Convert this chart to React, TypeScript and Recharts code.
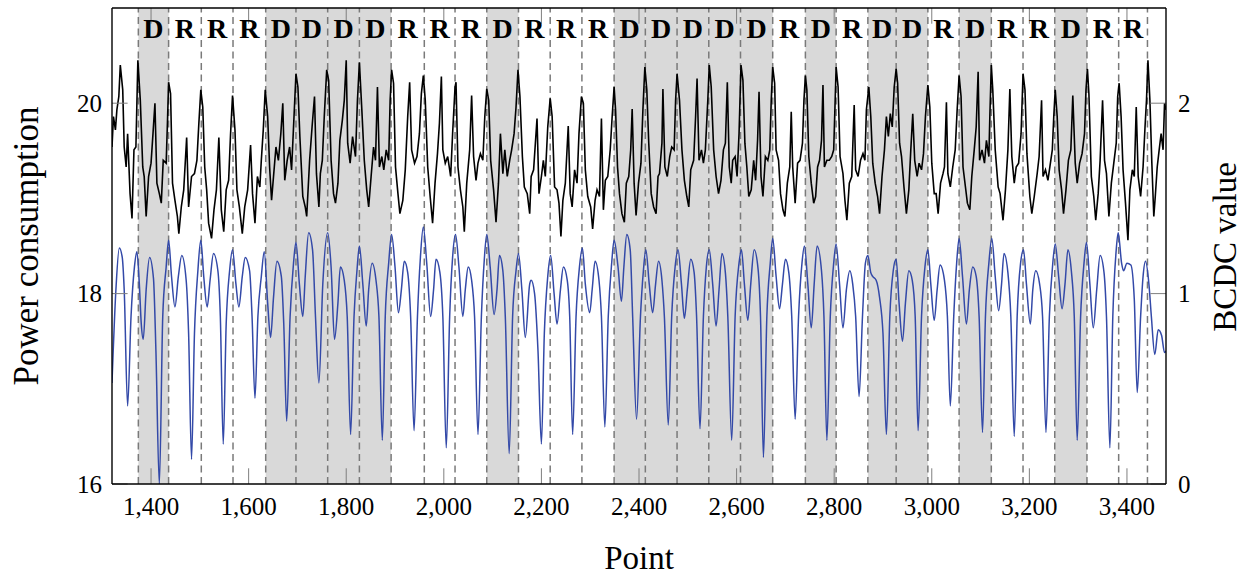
import React from 'react';
import { ComposedChart, Line, XAxis, YAxis, ReferenceArea, ReferenceLine } from 'recharts';

// segment borders (Point) and the D/R class of each segment
const segmentBounds = [1374, 1436, 1503, 1568, 1635, 1697, 1762, 1827, 1892, 1960, 2023, 2088, 2153, 2218, 2283, 2349, 2413, 2478, 2543, 2608, 2674, 2741, 2804, 2869, 2927, 2992, 3056, 3122, 3187, 3252, 3318, 3383, 3442];
const segmentLabels = ['D', 'R', 'R', 'R', 'D', 'D', 'D', 'D', 'R', 'R', 'R', 'D', 'R', 'R', 'R', 'D', 'D', 'D', 'D', 'D', 'R', 'D', 'R', 'D', 'D', 'R', 'D', 'R', 'R', 'D', 'R', 'R'];

const xTicks = [1400, 1600, 1800, 2000, 2200, 2400, 2600, 2800, 3000, 3200, 3400];
const powerTicks = [16, 18, 20];
const bcdcTicks = [0, 1, 2];

// [point, power consumption]
const powerPoints: [number, number][] = [
    [1320, 19.54], [1323, 19.86], [1327, 19.72], [1330, 19.93], [1334, 20.07], [1337, 20.40], [1342, 20.14], [1345, 19.54], [1349, 19.33], [1352, 19.68], [1357, 19.05], [1361, 18.79], [1365, 19.51], [1369, 19.54], [1373, 20.45], [1378, 20.03], [1383, 19.33], [1386, 19.23], [1390, 18.81], [1395, 19.23], [1400, 19.37], [1404, 19.68], [1408, 20.0], [1412, 19.16], [1417, 19.05], [1421, 18.95], [1425, 19.40], [1431, 19.37], [1434, 19.86], [1436, 20.22], [1440, 20.10], [1444, 19.16], [1449, 18.98], [1454, 18.81], [1457, 18.63], [1462, 18.91], [1467, 19.09], [1473, 19.64], [1477, 18.91], [1483, 19.23], [1489, 19.26], [1494, 19.40], [1498, 19.79], [1502, 20.14], [1506, 19.96], [1510, 19.33], [1514, 19.09], [1518, 18.74], [1524, 18.58], [1529, 18.88], [1534, 19.09], [1539, 19.64], [1544, 18.88], [1549, 18.65], [1554, 19.09], [1559, 19.19], [1563, 19.68], [1567, 20.08], [1572, 19.72], [1576, 19.09], [1581, 18.91], [1587, 18.63], [1592, 18.91], [1598, 19.09], [1604, 19.56], [1608, 19.05], [1613, 18.74], [1618, 19.23], [1623, 19.12], [1626, 19.40], [1630, 19.72], [1634, 20.14], [1639, 19.86], [1643, 19.33], [1647, 18.98], [1651, 19.23], [1656, 19.54], [1661, 19.40], [1666, 19.68], [1670, 20.0], [1674, 19.19], [1679, 19.40], [1684, 19.54], [1688, 19.30], [1693, 19.86], [1697, 20.31], [1701, 20.17], [1705, 19.65], [1711, 19.02], [1716, 18.91], [1719, 18.81], [1725, 19.40], [1730, 19.75], [1735, 20.07], [1739, 19.26], [1744, 18.91],
    [1747, 19.26], [1751, 19.40], [1755, 19.86], [1760, 20.35], [1764, 20.24], [1769, 19.40], [1774, 19.05], [1778, 18.95], [1783, 19.16], [1787, 19.61], [1792, 19.82], [1796, 20.03], [1800, 20.45], [1803, 19.58], [1808, 19.37], [1813, 19.65], [1819, 19.44], [1823, 20.03], [1827, 20.43], [1832, 19.93], [1837, 19.40], [1842, 19.09], [1846, 18.91], [1851, 19.23], [1856, 19.54], [1860, 19.40], [1864, 20.17], [1868, 19.33], [1873, 19.44], [1877, 19.30], [1882, 19.51], [1887, 19.40], [1890, 20.03], [1893, 20.35], [1897, 20.21], [1901, 19.33], [1906, 19.05], [1910, 18.84], [1916, 18.98], [1921, 19.30], [1926, 19.86], [1930, 20.22], [1934, 19.51], [1940, 19.37], [1945, 19.44], [1950, 19.68], [1954, 20.10], [1958, 20.29], [1962, 20.03], [1967, 19.33], [1972, 19.02], [1977, 18.74], [1982, 19.16], [1987, 19.47], [1991, 19.79], [1995, 20.28], [1998, 19.51], [2003, 19.37], [2008, 19.44], [2014, 19.23], [2018, 19.68], [2023, 20.17], [2025, 20.22], [2029, 19.33], [2034, 19.09], [2039, 18.91], [2042, 18.65], [2047, 19.16], [2053, 19.51], [2057, 20.08], [2061, 19.44], [2066, 19.19], [2070, 19.37], [2075, 19.47], [2080, 19.40], [2084, 19.86], [2088, 20.15], [2092, 20.03], [2096, 19.40], [2102, 19.09], [2107, 18.75], [2112, 19.16], [2116, 19.68], [2121, 19.26], [2125, 19.51], [2130, 19.23], [2135, 19.40], [2139, 19.51], [2144, 19.68], [2148, 19.96], [2152, 20.35], [2156, 20.07], [2161, 19.44], [2165, 19.12], [2171, 19.05], [2176, 18.84],
    [2179, 19.23], [2184, 19.30], [2191, 19.84], [2195, 19.05], [2200, 19.23], [2204, 19.40], [2208, 19.23], [2213, 19.75], [2218, 20.05], [2222, 19.86], [2227, 19.12], [2232, 19.09], [2236, 18.95], [2240, 18.60], [2244, 18.98], [2249, 19.16], [2255, 19.76], [2259, 19.05], [2263, 18.91], [2268, 19.30], [2273, 19.16], [2277, 19.68], [2282, 20.07], [2286, 20.0], [2290, 19.30], [2295, 19.02], [2301, 18.91], [2305, 18.68], [2310, 18.98], [2314, 19.09], [2319, 19.02], [2323, 19.84], [2327, 18.88], [2331, 19.19], [2336, 19.23], [2341, 19.51], [2345, 19.86], [2349, 20.17], [2352, 19.93], [2356, 19.33], [2360, 19.05], [2365, 18.84], [2370, 18.75], [2374, 19.16], [2379, 19.23], [2383, 19.51], [2386, 19.94], [2390, 19.16], [2394, 18.82], [2399, 19.16], [2404, 19.37], [2408, 19.93], [2412, 20.38], [2416, 20.14], [2420, 19.58], [2425, 19.05], [2430, 18.91], [2435, 18.84], [2439, 19.23], [2442, 19.26], [2447, 19.58], [2449, 20.15], [2453, 19.33], [2458, 19.23], [2463, 19.44], [2467, 19.54], [2472, 19.51], [2475, 20.03], [2478, 20.31], [2483, 20.03], [2488, 19.51], [2493, 19.19], [2498, 19.02], [2502, 18.91], [2506, 19.30], [2512, 19.40], [2516, 19.86], [2519, 20.26], [2523, 19.40], [2528, 19.51], [2532, 19.37], [2536, 19.51], [2541, 20.03], [2544, 20.40], [2548, 20.17], [2553, 19.51], [2558, 19.23], [2563, 19.05], [2568, 19.19], [2573, 19.51], [2577, 19.58], [2581, 20.22], [2585, 19.33], [2589, 19.16], [2592, 19.40], [2597, 19.44], [2601, 19.23], [2605, 19.68], [2609, 20.40],
    [2613, 20.24], [2617, 19.58], [2621, 19.33], [2625, 19.02], [2630, 19.09], [2635, 19.40], [2639, 19.19], [2643, 19.61], [2646, 20.12], [2650, 19.23], [2654, 19.02], [2659, 19.44], [2664, 19.40], [2668, 19.51], [2671, 20.03], [2674, 20.38], [2678, 20.21], [2681, 19.51], [2686, 19.40], [2690, 19.05], [2695, 18.88], [2699, 18.81], [2704, 19.16], [2709, 19.33], [2712, 19.91], [2715, 19.33], [2720, 18.95], [2725, 19.37], [2730, 19.40], [2735, 19.58], [2738, 20.03], [2741, 20.29], [2744, 20.14], [2748, 19.44], [2753, 19.16], [2758, 18.95], [2762, 19.02], [2766, 19.33], [2770, 19.40], [2774, 19.61], [2777, 20.19], [2780, 19.33], [2785, 19.40], [2790, 19.40], [2795, 19.44], [2799, 19.51], [2802, 20.03], [2804, 20.38], [2808, 20.17], [2812, 19.44], [2818, 19.26], [2822, 18.98], [2826, 18.77], [2831, 19.16], [2836, 19.23], [2841, 19.98], [2844, 19.30], [2849, 19.23], [2854, 19.40], [2859, 19.47], [2863, 19.40], [2866, 19.93], [2871, 20.17], [2875, 19.86], [2879, 19.37], [2884, 19.16], [2889, 19.02], [2893, 18.84], [2898, 19.23], [2903, 19.51], [2907, 19.86], [2911, 19.65], [2915, 19.89], [2919, 19.75], [2923, 20.17], [2927, 20.36], [2930, 20.21], [2934, 19.58], [2938, 19.44], [2943, 19.12], [2948, 18.84], [2953, 19.09], [2957, 19.51], [2961, 19.89], [2965, 19.40], [2970, 19.23], [2974, 19.37], [2979, 19.30], [2983, 19.47], [2987, 19.86], [2992, 20.19], [2996, 19.96], [3000, 19.37], [3005, 19.05], [3009, 19.05], [3013, 18.84], [3018, 19.16], [3023, 19.26], [3026, 19.33], [3030, 20.01], [3033, 19.26], [3038, 19.12],
    [3043, 19.33], [3048, 19.51], [3052, 19.93], [3056, 20.29], [3060, 20.07], [3064, 19.33], [3069, 19.12], [3073, 18.95], [3078, 18.88], [3082, 19.23], [3087, 19.51], [3091, 19.75], [3095, 20.33], [3098, 19.40], [3103, 19.51], [3108, 19.37], [3112, 19.61], [3117, 19.44], [3119, 19.86], [3122, 20.40], [3125, 20.14], [3130, 19.51], [3136, 19.12], [3140, 19.05], [3146, 18.77], [3151, 19.09], [3156, 19.51], [3160, 20.15], [3164, 19.44], [3169, 19.16], [3173, 19.33], [3178, 19.37], [3183, 19.68], [3187, 20.31], [3191, 20.14], [3195, 19.47], [3201, 19.02], [3205, 18.84], [3210, 19.02], [3216, 19.26], [3220, 19.44], [3225, 20.03], [3228, 19.23], [3233, 19.30], [3238, 19.19], [3242, 19.33], [3247, 19.51], [3250, 19.86], [3253, 20.14], [3257, 19.86], [3261, 19.30], [3266, 19.09], [3270, 18.84], [3275, 19.09], [3280, 19.40], [3285, 19.51], [3289, 20.08], [3294, 19.37], [3298, 19.16], [3303, 19.37], [3308, 19.47], [3313, 19.68], [3316, 20.14], [3319, 20.36], [3322, 20.10], [3327, 19.23], [3332, 19.02], [3336, 18.77], [3341, 19.05], [3345, 19.40], [3350, 20.03], [3354, 19.40], [3358, 19.26], [3363, 18.81], [3368, 19.16], [3373, 19.37], [3378, 19.58], [3381, 20.07], [3384, 20.21], [3388, 19.86], [3392, 19.30], [3397, 18.95], [3402, 18.56], [3406, 19.09], [3411, 19.30], [3415, 19.23], [3419, 19.96], [3423, 19.23], [3428, 19.02], [3433, 19.33], [3437, 19.75], [3440, 20.03], [3443, 20.45], [3447, 20.03], [3451, 19.37], [3455, 18.81], [3458, 19.02], [3462, 19.33], [3466, 19.51], [3470, 19.68], [3474, 19.51], [3477, 20.0], [3480, 19.93],
];

// [point, BCDC value]
const bcdcPoints: [number, number][] = [
    [1320, 0.53], [1328, 1.02], [1335, 1.24], [1341, 1.19], [1345, 1.02], [1352, 0.41], [1359, 0.88], [1366, 1.14], [1371, 1.22], [1376, 1.05], [1380, 0.84], [1384, 0.76], [1390, 1.02], [1397, 1.19], [1405, 1.08], [1410, 0.70], [1417, 0.0], [1424, 0.88], [1431, 1.14], [1436, 1.28], [1442, 1.09], [1449, 0.93], [1456, 1.09], [1463, 1.20], [1472, 1.07], [1477, 0.79], [1483, 0.13], [1489, 0.79], [1496, 1.12], [1502, 1.28], [1508, 1.09], [1515, 0.93], [1521, 1.07], [1528, 1.21], [1537, 1.12], [1542, 0.88], [1548, 0.21], [1554, 0.84], [1561, 1.12], [1567, 1.23], [1574, 1.05], [1580, 0.93], [1587, 1.09], [1593, 1.19], [1602, 1.12], [1607, 0.88], [1613, 0.45], [1619, 0.88], [1626, 1.09], [1632, 1.22], [1639, 0.95], [1645, 0.77], [1651, 0.98], [1658, 1.17], [1667, 1.09], [1672, 0.84], [1678, 0.33], [1685, 0.88], [1692, 1.16], [1697, 1.27], [1704, 1.05], [1711, 0.88], [1716, 1.09], [1723, 1.32], [1731, 1.23], [1737, 0.88], [1744, 0.53],
    [1752, 1.05], [1762, 1.32], [1769, 1.14], [1776, 0.76], [1783, 0.95], [1788, 1.14], [1796, 1.07], [1802, 0.88], [1809, 0.26], [1816, 0.88], [1822, 1.12], [1827, 1.25], [1834, 1.05], [1841, 0.83], [1846, 1.02], [1853, 1.16], [1861, 1.07], [1867, 0.88], [1874, 0.23], [1880, 0.88], [1887, 1.16], [1893, 1.31], [1900, 1.14], [1907, 0.90], [1913, 1.02], [1919, 1.17], [1926, 1.11], [1932, 0.88], [1939, 0.28], [1946, 0.88], [1952, 1.19], [1958, 1.35], [1965, 1.16], [1973, 0.88], [1979, 1.02], [1984, 1.18], [1992, 1.11], [1998, 0.88], [2005, 0.19], [2012, 0.88], [2018, 1.19], [2024, 1.31], [2031, 1.14], [2039, 0.88], [2044, 1.02], [2050, 1.14], [2057, 1.07], [2063, 0.88], [2070, 0.26], [2077, 0.88], [2083, 1.18], [2088, 1.31], [2095, 1.14], [2103, 0.89], [2109, 1.02], [2114, 1.20], [2121, 1.12], [2126, 0.88], [2134, 0.16], [2141, 0.88], [2148, 1.12], [2153, 1.21], [2160, 1.02], [2167, 0.77], [2176, 1.05], [2179, 1.07],
    [2186, 1.0], [2193, 0.70], [2200, 0.21], [2206, 0.79], [2213, 1.09], [2219, 1.20], [2226, 1.0], [2232, 0.84], [2239, 1.02], [2245, 1.14], [2253, 1.07], [2258, 0.88], [2264, 0.26], [2271, 0.88], [2278, 1.14], [2284, 1.24], [2290, 1.05], [2299, 0.90], [2304, 1.02], [2310, 1.17], [2318, 1.07], [2323, 0.88], [2330, 0.30], [2337, 0.88], [2344, 1.16], [2349, 1.28], [2357, 1.14], [2364, 0.96], [2369, 1.14], [2375, 1.31], [2382, 1.23], [2387, 0.88], [2395, 0.34], [2403, 0.88], [2409, 1.12], [2414, 1.23], [2421, 1.05], [2428, 0.90], [2434, 1.05], [2440, 1.17], [2447, 1.07], [2452, 0.88], [2460, 0.31], [2467, 0.88], [2474, 1.14], [2480, 1.23], [2487, 1.05], [2493, 0.87], [2499, 1.02], [2506, 1.18], [2513, 1.11], [2518, 0.88], [2525, 0.29], [2532, 0.88], [2538, 1.14], [2544, 1.23], [2551, 1.05], [2558, 0.83], [2564, 1.02], [2570, 1.21], [2577, 1.11], [2582, 0.88], [2590, 0.23], [2597, 0.88], [2605, 1.16], [2610, 1.23],
    [2616, 1.05], [2623, 0.86], [2629, 1.05], [2636, 1.23], [2644, 1.13], [2649, 0.88], [2655, 0.14], [2662, 0.88], [2669, 1.16], [2674, 1.29], [2681, 1.09], [2688, 0.92], [2694, 1.05], [2700, 1.18], [2707, 1.11], [2713, 0.88], [2720, 0.34], [2727, 0.88], [2734, 1.16], [2739, 1.25], [2746, 1.05], [2753, 0.82], [2759, 1.05], [2765, 1.25], [2774, 1.12], [2779, 0.88], [2785, 0.23], [2792, 0.88], [2799, 1.16], [2804, 1.26], [2811, 1.05], [2818, 0.82], [2825, 1.02], [2832, 1.12], [2838, 1.05], [2844, 0.88], [2851, 0.46], [2858, 0.88], [2864, 1.16], [2869, 1.20], [2875, 1.11], [2879, 1.09], [2886, 1.07], [2893, 0.98], [2900, 0.79], [2907, 0.26], [2914, 0.88], [2921, 1.12], [2927, 1.18], [2933, 0.95], [2940, 0.75], [2946, 0.95], [2953, 1.12], [2960, 1.07], [2966, 0.88], [2972, 0.28], [2979, 0.88], [2986, 1.14], [2992, 1.23], [2998, 1.05], [3005, 0.86], [3011, 1.02], [3017, 1.15], [3026, 1.07], [3032, 0.88], [3038, 0.41],
    [3045, 0.88], [3051, 1.16], [3056, 1.29], [3063, 1.09], [3071, 0.84], [3077, 1.02], [3084, 1.14], [3091, 1.09], [3097, 0.88], [3104, 0.27], [3110, 0.88], [3117, 1.16], [3123, 1.29], [3130, 1.09], [3137, 0.91], [3143, 1.05], [3148, 1.21], [3156, 1.11], [3162, 0.88], [3169, 0.25], [3175, 0.88], [3182, 1.16], [3188, 1.23], [3194, 1.05], [3202, 0.84], [3207, 1.02], [3213, 1.12], [3221, 1.05], [3227, 0.88], [3234, 0.27], [3241, 0.88], [3248, 1.16], [3253, 1.26], [3260, 1.09], [3267, 0.92], [3273, 1.05], [3279, 1.23], [3286, 1.12], [3292, 0.88], [3298, 0.23], [3305, 0.88], [3312, 1.16], [3317, 1.27], [3324, 1.05], [3331, 0.82], [3338, 1.02], [3345, 1.20], [3353, 1.11], [3358, 0.88], [3365, 0.19], [3371, 0.88], [3378, 1.23], [3382, 1.32], [3389, 1.16], [3393, 1.12], [3400, 1.16], [3408, 1.15], [3415, 0.97], [3421, 0.48], [3428, 0.88], [3433, 1.09], [3438, 1.17], [3445, 1.05], [3450, 0.88], [3457, 0.68], [3464, 0.81], [3471, 0.78], [3477, 0.69], [3480, 0.70],
];

const powerData = powerPoints.map(([x, y]) => ({ x, y }));
const bcdcData = bcdcPoints.map(([x, y]) => ({ x, y }));

const FONT = "'Liberation Serif', 'Times New Roman', serif";
const tickStyle = { fontFamily: FONT, fontSize: 25, fill: '#000' };
const TICK_GRAY = '#7f7f7f';

const App: React.FC = () => {
    return (
        <div style={{ position: 'absolute', left: 0, top: 0, width: 1247, height: 578, background: '#fff' }}>
            <ComposedChart width={1247} height={578} margin={{ top: 8, right: 0, bottom: 0, left: 0 }}>
                <XAxis
                    dataKey="x"
                    type="number"
                    domain={[1320, 3480]}
                    ticks={xTicks}
                    tickFormatter={(v: number) => v.toLocaleString('en-US')}
                    tick={tickStyle}
                    tickLine={false}
                    tickSize={0}
                    tickMargin={13}
                    axisLine={{ stroke: '#000', strokeWidth: 1.4 }}
                    height={94}
                    allowDataOverflow
                />
                <YAxis
                    yAxisId="left"
                    type="number"
                    domain={[16, 21]}
                    ticks={powerTicks}
                    tick={tickStyle}
                    tickLine={false}
                    tickSize={0}
                    tickMargin={10}
                    axisLine={{ stroke: '#000', strokeWidth: 1.4 }}
                    width={112}
                    allowDataOverflow
                />
                <YAxis
                    yAxisId="right"
                    orientation="right"
                    type="number"
                    domain={[0, 2.5]}
                    ticks={bcdcTicks}
                    tick={tickStyle}
                    tickLine={false}
                    tickSize={0}
                    tickMargin={12}
                    axisLine={{ stroke: '#000', strokeWidth: 1.4 }}
                    width={81}
                    allowDataOverflow
                />

                {/* D / R segments */}
                {segmentLabels.map((lab, i) => (
                    <ReferenceArea
                        key={`seg-${i}`}
                        yAxisId="left"
                        x1={segmentBounds[i]}
                        x2={segmentBounds[i + 1]}
                        fill={lab === 'D' ? '#d9d9d9' : '#ffffff'}
                        fillOpacity={lab === 'D' ? 1 : 0}
                        stroke="none"
                        label={{
                            value: lab,
                            position: 'insideTop',
                            offset: 10,
                            fontFamily: FONT,
                            fontSize: 28,
                            fontWeight: 700,
                            fill: '#000',
                        }}
                    />
                ))}
                {segmentBounds.map((b) => (
                    <ReferenceLine key={`dash-${b}`} yAxisId="left" x={b} stroke="#7a7a7a" strokeWidth={1.5} strokeDasharray="7 4.5" />
                ))}

                <Line
                    yAxisId="right"
                    data={bcdcData}
                    dataKey="y"
                    type="monotone"
                    stroke="#3349a8"
                    strokeWidth={1.5}
                    dot={false}
                    activeDot={false}
                    isAnimationActive={false}
                />
                <Line
                    yAxisId="left"
                    data={powerData}
                    dataKey="y"
                    type="linear"
                    stroke="#000"
                    strokeWidth={1.6}
                    dot={false}
                    activeDot={false}
                    isAnimationActive={false}
                />

                {/* inward tick marks, pgfplots style */}
                {xTicks.map((t) => (
                    <ReferenceLine key={`xb-${t}`} yAxisId="left" segment={[{ x: t, y: 16 }, { x: t, y: 16.165 }]} stroke={TICK_GRAY} strokeWidth={1} />
                ))}
                {xTicks.map((t) => (
                    <ReferenceLine key={`xt-${t}`} yAxisId="left" segment={[{ x: t, y: 21 }, { x: t, y: 20.835 }]} stroke={TICK_GRAY} strokeWidth={1} />
                ))}
                {powerTicks.map((t) => (
                    <ReferenceLine key={`yl-${t}`} yAxisId="left" segment={[{ x: 1320, y: t }, { x: 1352, y: t }]} stroke={TICK_GRAY} strokeWidth={1} />
                ))}
                {bcdcTicks.map((t) => (
                    <ReferenceLine key={`yr-${t}`} yAxisId="right" segment={[{ x: 3480, y: t }, { x: 3448, y: t }]} stroke={TICK_GRAY} strokeWidth={1} />
                ))}
                <ReferenceLine yAxisId="left" y={21} stroke="#000" strokeWidth={1.4} />
            </ComposedChart>

            {/* axis titles */}
            <svg width={1247} height={578} style={{ position: 'absolute', left: 0, top: 0, pointerEvents: 'none' }}>
                <text x={38} y={246} transform="rotate(-90 38 246)" textAnchor="middle" fontFamily={FONT} fontSize={35} fill="#000">
                    Power consumption
                </text>
                <text x={1236} y={247} transform="rotate(-90 1236 247)" textAnchor="middle" fontFamily={FONT} fontSize={33} fill="#000">
                    BCDC value
                </text>
                <text x={639} y={569} textAnchor="middle" fontFamily={FONT} fontSize={33} fill="#000">
                    Point
                </text>
            </svg>
        </div>
    );
};

export default App;
